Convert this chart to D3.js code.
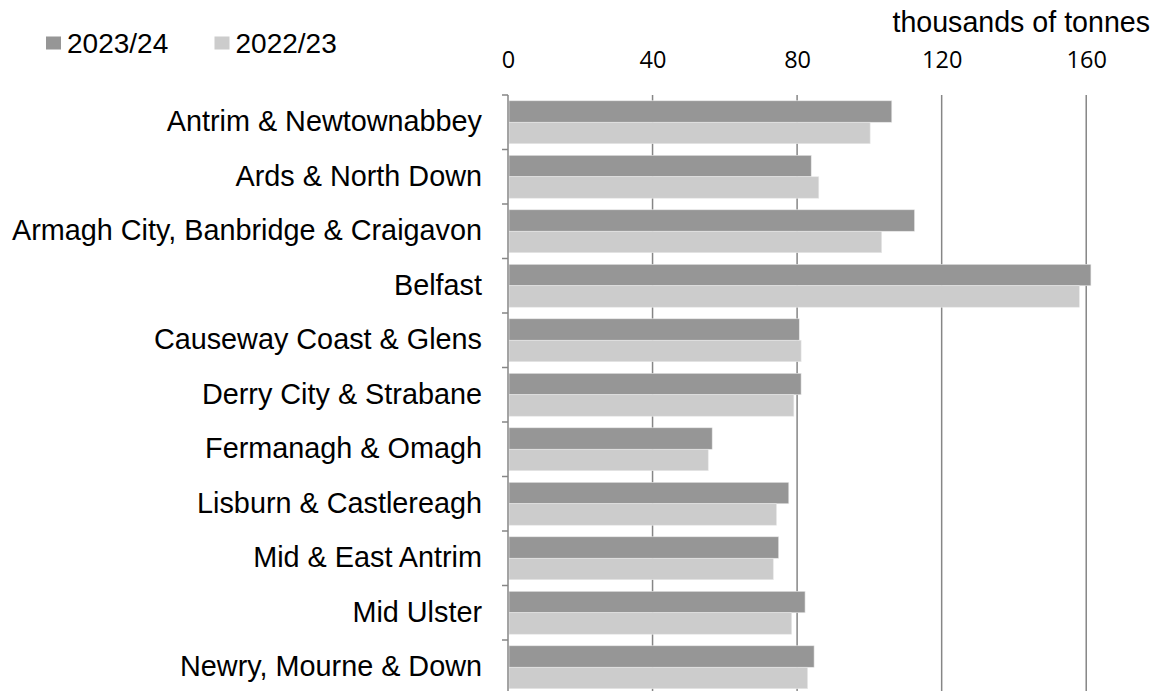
<!DOCTYPE html>
<html>
<head>
<meta charset="utf-8">
<title>Waste arisings by council</title>
<script src="https://cdn.jsdelivr.net/npm/d3@7"></script>
<style>
  body { margin: 0; background: #fff; }
  text { font-family: "Liberation Sans", Arial, sans-serif; fill: #000; }
  .tick-lbl { font-family: "Open Sans", "Liberation Sans", sans-serif; }
</style>
</head>
<body>
<script>
// data (thousands of tonnes)
var councils = ["Antrim & Newtownabbey", "Ards & North Down", "Armagh City, Banbridge & Craigavon",
  "Belfast", "Causeway Coast & Glens", "Derry City & Strabane", "Fermanagh & Omagh",
  "Lisburn & Castlereagh", "Mid & East Antrim", "Mid Ulster", "Newry, Mourne & Down"];
var series = ["2023/24", "2022/23"];
var values2324 = [106.2, 83.9, 112.5, 161.3, 80.6, 81.1, 56.5, 77.7, 74.9, 82.2, 84.7];
var values2223 = [100.2, 86.0, 103.4, 158.1, 81.1, 79.1, 55.4, 74.3, 73.4, 78.5, 82.9];
var tickValues = [0, 40, 80, 120, 160];
var colours = ["#969696", "#cccccc"];

var w = 1160, h = 691;

var svg = d3.select("body").append("svg")
  .attr("width", w).attr("height", h);

var x = d3.scaleLinear().domain([0, 180]).range([508, 1158.5]);
var y = d3.scaleBand().domain(councils).range([95, 95 + 54.5 * councils.length]);
var ySub = d3.scaleBand().domain(series).range([0, y.bandwidth()]).paddingOuter(0.27);
var colour = d3.scaleOrdinal().domain(series).range(colours);

var rows = councils.map(function(c, i) {
  return { name: c, vals: [values2324[i], values2223[i]] };
});

// gridlines
svg.append("g").selectAll("line")
  .data(tickValues.slice(1)).enter().append("line")
  .attr("x1", function(d) { return x(d); })
  .attr("x2", function(d) { return x(d); })
  .attr("y1", 95).attr("y2", h)
  .attr("stroke", "#868686").attr("stroke-width", 1.5);

// bars
var grp = svg.append("g").selectAll("g")
  .data(rows).enter().append("g")
  .attr("transform", function(d) { return "translate(0," + y(d.name) + ")"; });

grp.selectAll("rect")
  .data(function(d) { return d.vals.map(function(v, i) { return { s: series[i], v: v }; }); })
  .enter().append("rect")
  .attr("x", x(0) + 1)
  .attr("y", function(d) { return ySub(d.s); })
  .attr("width", function(d) { return x(d.v) - x(0) - 1; })
  .attr("height", ySub.bandwidth())
  .attr("fill", function(d) { return colour(d.s); })
  .attr("stroke", "#e8e8e8").attr("stroke-width", 0.6);

// category axis
var yAxis = svg.append("g")
  .attr("transform", "translate(" + x(0) + ",0)")
  .call(d3.axisLeft(y).tickSize(0).tickPadding(26));
yAxis.select(".domain").remove();
yAxis.selectAll("text")
  .style("font-family", '"Liberation Sans", Arial, sans-serif')
  .style("font-size", "28.8px")
  .attr("fill", "#000");

// boundary ticks + axis line
var bounds = councils.map(function(c) { return y(c); });
svg.append("g").selectAll("line")
  .data(bounds).enter().append("line")
  .attr("x1", x(0) - 6).attr("x2", x(0))
  .attr("y1", function(d) { return d; }).attr("y2", function(d) { return d; })
  .attr("stroke", "#868686").attr("stroke-width", 1.5);
svg.append("line")
  .attr("x1", x(0)).attr("x2", x(0))
  .attr("y1", 95).attr("y2", h)
  .attr("stroke", "#868686").attr("stroke-width", 1.5);

// value axis labels on top
var xAxis = svg.append("g")
  .attr("transform", "translate(0,68)")
  .call(d3.axisTop(x).tickValues(tickValues).tickSize(0).tickPadding(0));
xAxis.select(".domain").remove();
xAxis.selectAll("text")
  .attr("class", "tick-lbl")
  .attr("dy", 0)
  .style("font-size", "23.5px")
  .attr("fill", "#000");

svg.append("text")
  .attr("x", 1150).attr("y", 32)
  .attr("text-anchor", "end")
  .style("font-size", "28.6px")
  .text("thousands of tonnes");

// legend
var leg = svg.append("g").selectAll("g")
  .data(series).enter().append("g")
  .attr("transform", function(d, i) { return "translate(" + (46 + i * 168.5) + ",0)"; });
leg.append("rect")
  .attr("x", 0).attr("y", 36.5).attr("width", 15).attr("height", 13)
  .attr("fill", function(d) { return colour(d); });
leg.append("text")
  .attr("x", 21).attr("y", 52.5)
  .style("font-size", "28px")
  .text(function(d) { return d; });
</script>
</body>
</html>
